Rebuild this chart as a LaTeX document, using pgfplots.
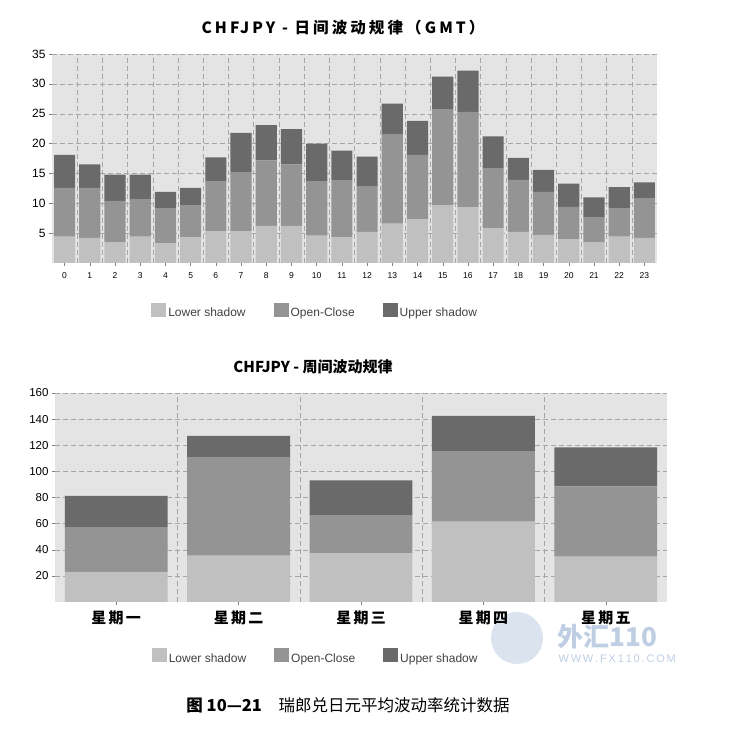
\documentclass[border=0pt]{standalone}
\usepackage{pgfplots}
\pgfplotsset{compat=1.18}
\usepackage{pgfplotstable}
\usepackage{fontspec}
\setmainfont{Liberation Sans}
\newfontfamily\cjk{Noto Sans CJK SC}
\newfontfamily\cjkls[LetterSpace=20]{Noto Sans CJK SC}
\newfontfamily\cjkcat[LetterSpace=15]{Noto Sans CJK SC}

\definecolor{lowc}{HTML}{C0C0C0}
\definecolor{occ}{HTML}{949494}
\definecolor{upc}{HTML}{6A6A6A}
\definecolor{bgc}{HTML}{E4E4E4}
\definecolor{gridc}{HTML}{A6A6A6}
\definecolor{wm}{HTML}{AFC2DC}

% hour, lower shadow, open-close, upper shadow
\pgfplotstableread{
h low oc up
0 4.4 8.2 5.5
1 4.2 8.4 3.9
2 3.5 6.9 4.4
3 4.4 6.2 4.2
4 3.3 5.9 2.7
5 4.3 5.4 2.9
6 5.3 8.4 4.0
7 5.3 9.9 6.6
8 6.2 11.0 5.9
9 6.2 10.3 5.9
10 4.6 9.1 6.3
11 4.3 9.5 5.0
12 5.2 7.6 5.0
13 6.6 14.9 5.2
14 7.3 10.8 5.7
15 9.7 16.0 5.5
16 9.4 15.9 6.9
17 5.8 10.0 5.4
18 5.2 8.7 3.7
19 4.7 7.2 3.7
20 4.0 5.4 3.9
21 3.5 4.2 3.3
22 4.4 4.8 3.5
23 4.2 6.6 2.7
}\hourly

% weekday (0 = Monday)
\pgfplotstableread{
d low oc up
0 23.0 34.0 24.2
1 35.5 75.1 16.6
2 37.3 28.9 27.0
3 61.6 53.6 27.3
4 34.7 53.9 29.7
}\weekly

\pgfplotsset{
  sq/.style={legend image code/.code={\fill[##1] (0pt,-4pt) rectangle (15pt,10pt);}},
  stk/.style={
    ybar stacked, scale only axis, anchor=south west,
    axis background/.style={fill=bgc},
    axis line style={draw=none},
    ymin=0, bar width=0.84,
    xtick pos=bottom, ytick pos=left,
    tick align=outside, major tick length=3pt, minor tick length=0pt,
    tick style={gray, thin},
    ymajorgrids, xminorgrids,
    major grid style={gridc, dash pattern=on 5pt off 3pt},
    minor grid style={gridc, dash pattern=on 5pt off 3pt},
    /pgf/number format/assume math mode=true,
    legend columns=3,
    legend style={draw=none, fill=none, anchor=center,
      font=\fontsize{12}{14}\selectfont\color{black!75},
      /tikz/every even column/.append style={column sep=26pt},
      /tikz/every odd column/.append style={column sep=0pt}},
  },
}

\begin{document}
\begin{tikzpicture}
\path[use as bounding box] (0,0) rectangle (752pt,728pt);

% watermark, drawn first so the labels stay on top
\fill[wm, opacity=0.45] (517pt,90pt) circle (26pt);
\node[wm, font=\cjk\bfseries\itshape\fontsize{26}{28}\selectfont, anchor=west, opacity=0.8] at (554pt,91pt) {外汇110};
\node[wm, font=\fontsize{11}{13}\selectfont, anchor=west, opacity=0.8] at (555pt,69pt) {W\,W\,W\,.\,F\,X\,1\,1\,0\,.\,C\,O\,M};

\node[font=\cjkls\bfseries\fontsize{15.5}{17}\selectfont] at (343pt,700pt) {CHFJPY - 日间波动规律（GMT）};

\begin{axis}[stk, at={(52pt,465pt)}, width=605pt, height=209pt,
  xmin=-0.5, xmax=23.5, ymax=35,
  xtick={0,...,23}, minor xtick={0.5,1.5,...,22.5},
  ytick={5,10,...,35},
  x tick label style={font=\fontsize{8.5}{10}\selectfont, yshift=-3pt},
  y tick label style={font=\fontsize{12}{14}\selectfont},
  legend style={at={(0.435,-0.23)}}]
\addplot[fill=lowc, draw=none, sq] table[x=h, y=low] {\hourly};
\addplot[fill=occ, draw=none, sq] table[x=h, y=oc] {\hourly};
\addplot[fill=upc, draw=none, sq] table[x=h, y=up] {\hourly};
\legend{Lower shadow, Open-Close, Upper shadow}
\end{axis}

\node[font=\cjk\bfseries\fontsize{15}{17}\selectfont] at (313pt,361pt) {CHFJPY - 周间波动规律};

\begin{axis}[stk, at={(55pt,126pt)}, width=612pt, height=209pt,
  xmin=-0.5, xmax=4.5, ymax=160,
  xtick={0,...,4}, minor xtick={0.5,1.5,2.5,3.5},
  xticklabels={星期一, 星期二, 星期三, 星期四, 星期五},
  ytick={20,40,...,160},
  x tick label style={font=\cjkcat\bfseries\fontsize{15}{17}\selectfont, yshift=-2pt},
  y tick label style={font=\fontsize{11.5}{14}\selectfont},
  legend style={at={(0.426,-0.263)}}]
\addplot[fill=lowc, draw=none, sq] table[x=d, y=low] {\weekly};
\addplot[fill=occ, draw=none, sq] table[x=d, y=oc] {\weekly};
\addplot[fill=upc, draw=none, sq] table[x=d, y=up] {\weekly};
\legend{Lower shadow, Open-Close, Upper shadow}
\end{axis}

\node[font=\cjk\fontsize{16.5}{19}\selectfont] at (348pt,23pt) {\textbf{图 10—21}\quad 瑞郎兑日元平均波动率统计数据};
\end{tikzpicture}
\end{document}
